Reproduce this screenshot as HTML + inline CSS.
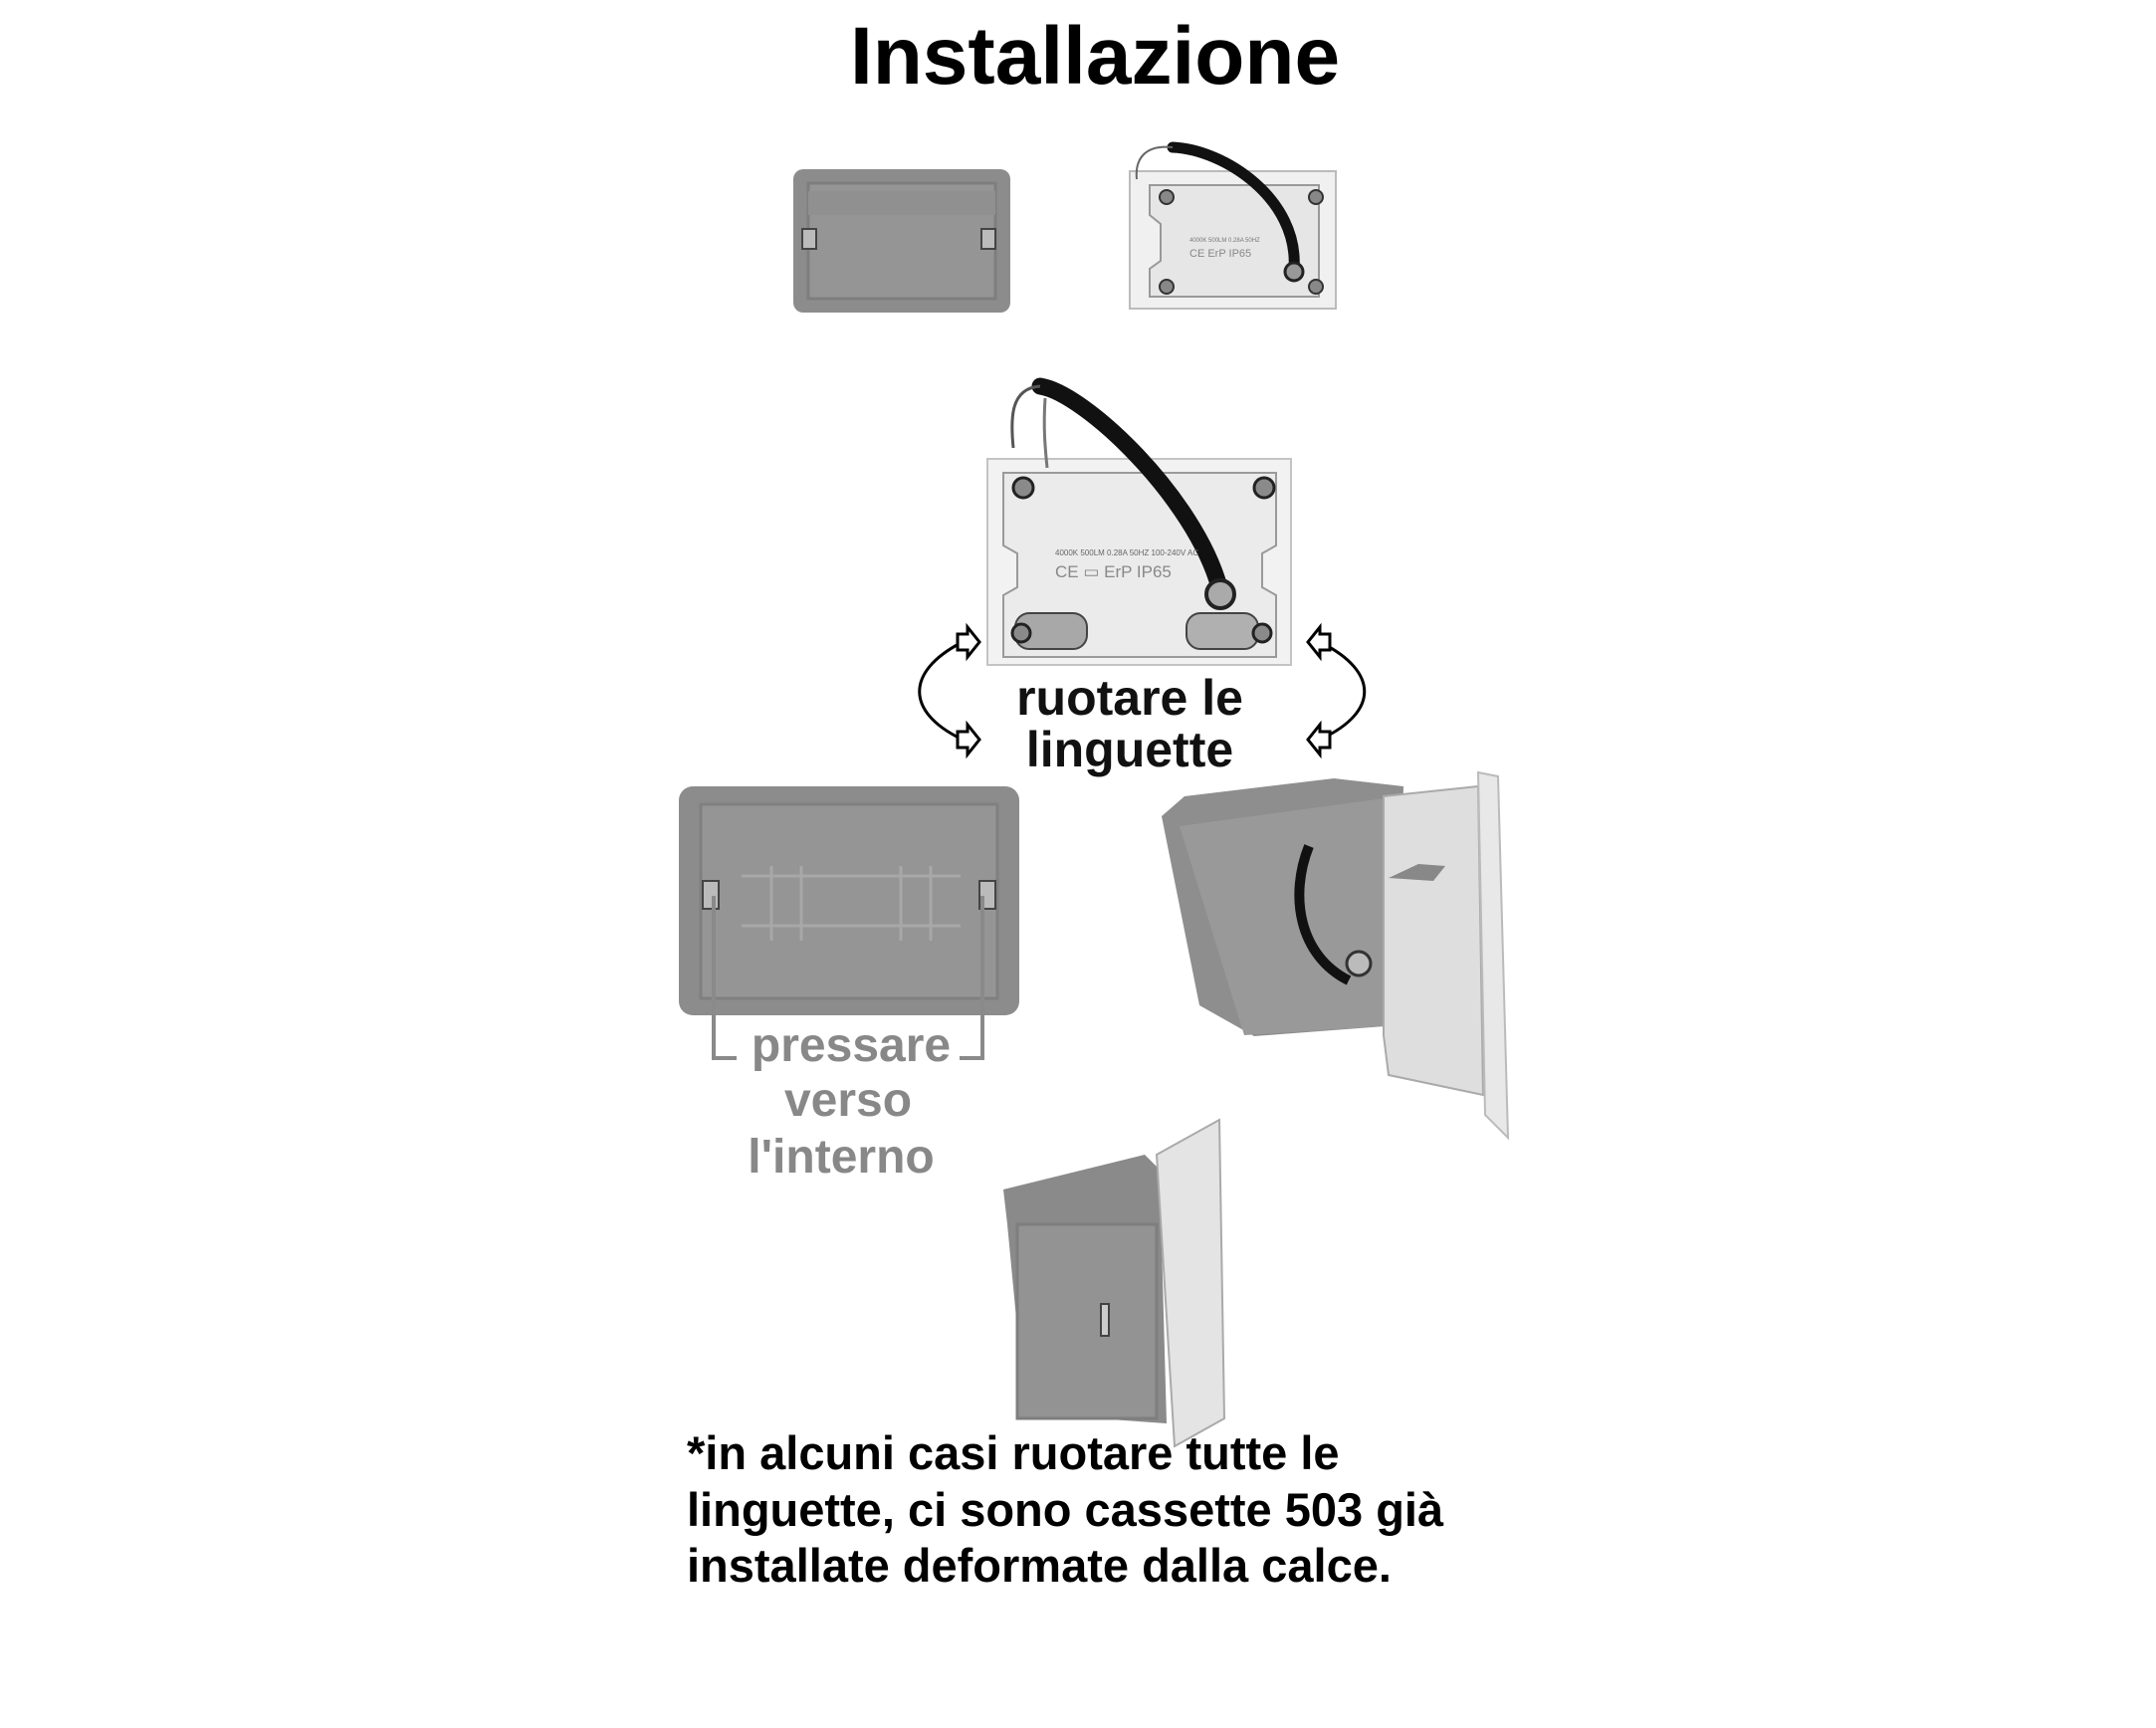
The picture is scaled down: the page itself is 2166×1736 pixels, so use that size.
<!DOCTYPE html>
<html><head><meta charset="utf-8"><style>
html,body{margin:0;padding:0;background:#fff;}
body{width:2166px;height:1736px;position:relative;overflow:hidden;font-family:"Liberation Sans",sans-serif;}
svg{position:absolute;left:0;top:0;}
</style></head><body>
<svg width="2166" height="1736" viewBox="0 0 2166 1736" xmlns="http://www.w3.org/2000/svg">
<!-- Title -->
<text x="1100" y="84" font-family="Liberation Sans, sans-serif" font-weight="bold" font-size="82" text-anchor="middle" fill="#000">Installazione</text>

<!-- Box 1 top-left -->
<rect x="797" y="170" width="218" height="144" rx="10" fill="#8c8c8c"/>
<rect x="812" y="184" width="188" height="116" fill="#959595" stroke="#7e7e7e" stroke-width="3"/>
<rect x="812" y="192" width="188" height="24" fill="#909090"/>
<rect x="806" y="230" width="14" height="20" fill="#bbb" stroke="#444" stroke-width="2"/>
<rect x="986" y="230" width="14" height="20" fill="#bbb" stroke="#444" stroke-width="2"/>

<!-- Lamp 1 top-right -->
<rect x="1135" y="172" width="207" height="138" fill="#f0f0f0" stroke="#bbb" stroke-width="2"/>
<polygon points="1155,186 1325,186 1325,298 1155,298 1155,270 1166,262 1166,225 1155,216" fill="#e6e6e6" stroke="#999" stroke-width="2"/>
<circle cx="1172" cy="198" r="7" fill="#888" stroke="#333" stroke-width="2"/>
<circle cx="1322" cy="198" r="7" fill="#888" stroke="#333" stroke-width="2"/>
<circle cx="1172" cy="288" r="7" fill="#888" stroke="#333" stroke-width="2"/>
<circle cx="1322" cy="288" r="7" fill="#888" stroke="#333" stroke-width="2"/>
<path d="M1178 148 C1230 150 1305 200 1300 270" fill="none" stroke="#111" stroke-width="11" stroke-linecap="round"/>
<circle cx="1300" cy="273" r="9" fill="#999" stroke="#222" stroke-width="3"/>
<path d="M1178 148 C1150 145 1140 160 1142 180" fill="none" stroke="#666" stroke-width="2"/>
<text x="1195" y="243" font-size="6" fill="#777">4000K 500LM 0.28A 50HZ</text>
<text x="1195" y="258" font-size="11" fill="#888">CE ErP IP65</text>

<!-- Lamp 2 big -->
<rect x="992" y="461" width="305" height="207" fill="#f2f2f2" stroke="#c4c4c4" stroke-width="2"/>
<polygon points="1008,475 1282,475 1282,548 1268,556 1268,590 1282,598 1282,660 1008,660 1008,598 1022,590 1022,556 1008,548" fill="#ebebeb" stroke="#9a9a9a" stroke-width="2"/>
<circle cx="1028" cy="490" r="10" fill="#8a8a8a" stroke="#222" stroke-width="3"/>
<circle cx="1270" cy="490" r="10" fill="#8a8a8a" stroke="#222" stroke-width="3"/>
<rect x="1020" y="616" width="72" height="36" rx="14" fill="#a8a8a8" stroke="#444" stroke-width="2"/>
<rect x="1192" y="616" width="72" height="36" rx="14" fill="#b0b0b0" stroke="#444" stroke-width="2"/>
<circle cx="1026" cy="636" r="9" fill="#8a8a8a" stroke="#222" stroke-width="3"/>
<circle cx="1268" cy="636" r="9" fill="#8a8a8a" stroke="#222" stroke-width="3"/>
<path d="M1045 388 C1090 395 1200 500 1225 590" fill="none" stroke="#111" stroke-width="17" stroke-linecap="round"/>
<circle cx="1226" cy="597" r="14" fill="#aaa" stroke="#222" stroke-width="4"/>
<path d="M1045 388 C1015 390 1015 420 1018 450" fill="none" stroke="#555" stroke-width="3"/>
<path d="M1050 400 C1048 430 1050 450 1052 470" fill="none" stroke="#777" stroke-width="3"/>
<text x="1060" y="558" font-size="8" fill="#666">4000K 500LM 0.28A 50HZ 100-240V AC</text>
<text x="1060" y="580" font-size="17" fill="#888">CE ▭ ErP IP65</text>

<!-- Arrows -->
<g fill="none" stroke="#000" stroke-width="3">
<path d="M965 646 C910 675 910 715 965 742"/>
<path d="M1328 646 C1385 675 1385 715 1328 742"/>
</g>
<g fill="#fff" stroke="#000" stroke-width="3">
<polygon points="962,637 972,637 972,630 984,645 972,660 972,653 962,653"/>
<polygon points="962,735 972,735 972,728 984,743 972,758 972,751 962,751"/>
<polygon points="1336,637 1326,637 1326,630 1314,645 1326,660 1326,653 1336,653"/>
<polygon points="1336,735 1326,735 1326,728 1314,743 1326,758 1326,751 1336,751"/>
</g>
<text x="1135" y="718" font-weight="bold" font-size="50" text-anchor="middle" fill="#111">ruotare le</text>
<text x="1135" y="770" font-weight="bold" font-size="50" text-anchor="middle" fill="#111">linguette</text>

<!-- Box 2 left -->
<rect x="682" y="790" width="342" height="230" rx="14" fill="#8c8c8c"/>
<rect x="704" y="808" width="298" height="195" fill="#959595" stroke="#808080" stroke-width="3"/>
<g stroke="#a8a8a8" stroke-width="3">
<line x1="745" y1="880" x2="965" y2="880"/><line x1="745" y1="930" x2="965" y2="930"/>
<line x1="775" y1="870" x2="775" y2="945"/><line x1="805" y1="870" x2="805" y2="945"/>
<line x1="905" y1="870" x2="905" y2="945"/><line x1="935" y1="870" x2="935" y2="945"/>
</g>
<rect x="706" y="885" width="16" height="28" fill="#bbb" stroke="#444" stroke-width="2"/>
<rect x="984" y="885" width="16" height="28" fill="#bbb" stroke="#444" stroke-width="2"/>
<g fill="none" stroke="#8a8a8a" stroke-width="4">
<polyline points="717,900 717,1063 740,1063"/>
<polyline points="987,900 987,1063 964,1063"/>
</g>
<g font-weight="bold" font-size="48" fill="#888" text-anchor="middle">
<text x="855" y="1066">pressare</text>
<text x="852" y="1121">verso</text>
<text x="845" y="1178">l'interno</text>
</g>

<!-- Box + lamp right -->
<polygon points="1167,820 1190,800 1340,782 1410,790 1405,1030 1260,1041 1205,1010" fill="#8e8e8e"/>
<polygon points="1185,830 1405,800 1405,1030 1250,1040" fill="#999"/>
<path d="M1315 850 C1295 900 1305 960 1355 985" fill="none" stroke="#111" stroke-width="10"/>
<polygon points="1390,800 1485,790 1490,1100 1395,1080 1390,1040" fill="#dedede" stroke="#aaa" stroke-width="2"/>
<polygon points="1485,776 1505,780 1515,1143 1492,1120" fill="#e8e8e8" stroke="#bbb" stroke-width="2"/>
<polygon points="1395,882 1425,868 1452,870 1440,885" fill="#888"/>
<circle cx="1365" cy="968" r="12" fill="#bbb" stroke="#333" stroke-width="3"/>

<!-- Installed bottom -->
<polygon points="1008,1195 1150,1160 1165,1175 1172,1430 1030,1420 1012,1230" fill="#8a8a8a"/>
<rect x="1022" y="1230" width="140" height="195" fill="#939393" stroke="#7e7e7e" stroke-width="3"/>
<polygon points="1162,1160 1225,1125 1230,1425 1180,1453" fill="#e4e4e4" stroke="#aaa" stroke-width="2"/>
<rect x="1106" y="1310" width="8" height="32" fill="#ccc" stroke="#444" stroke-width="2"/>

<!-- Footnote -->
<g font-weight="bold" font-size="47" fill="#000">
<text x="690" y="1476">*in alcuni casi ruotare tutte le</text>
<text x="690" y="1533">linguette, ci sono cassette 503 già</text>
<text x="690" y="1589">installate deformate dalla calce.</text>
</g>
</svg>
</body></html>
